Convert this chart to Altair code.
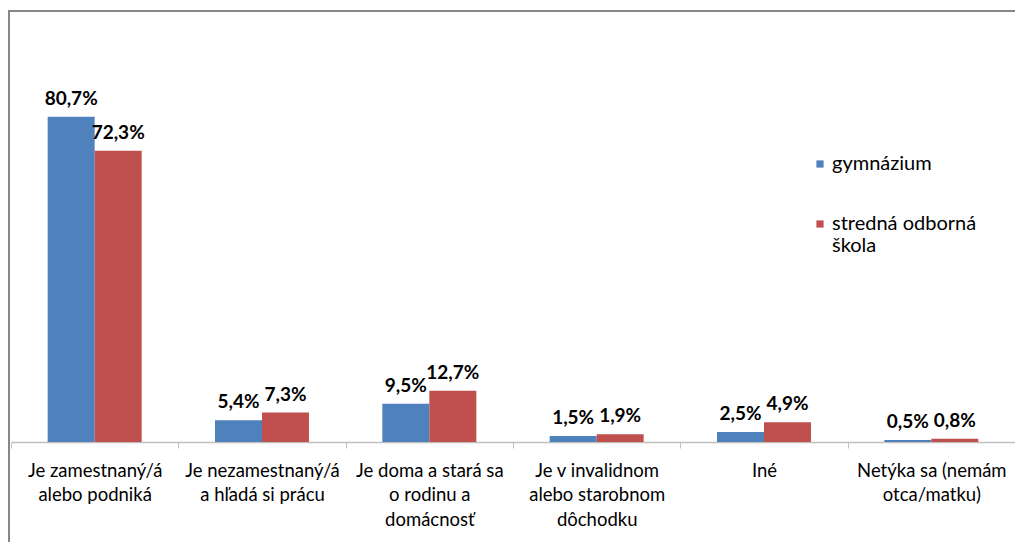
import altair as alt
import pandas as pd

categories = [
    "Je zamestnaný/á\nalebo podniká",
    "Je nezamestnaný/á\na hľadá si prácu",
    "Je doma a stará sa\no rodinu a\ndomácnosť",
    "Je v invalidnom\nalebo starobnom\ndôchodku",
    "Iné",
    "Netýka sa (nemám\notca/matku)",
]
series = ["gymnázium", "stredná odborná škola"]
gymnazium = [80.7, 5.4, 9.5, 1.5, 2.5, 0.5]
sos = [72.3, 7.3, 12.7, 1.9, 4.9, 0.8]
colors = ["#4F81BD", "#C0504D"]

rows = []
for i, c in enumerate(categories):
    rows.append({"cat": c, "series": series[0], "value": gymnazium[i]})
    rows.append({"cat": c, "series": series[1], "value": sos[i]})
df = pd.DataFrame(rows)

FONT = "Lato"
W, H = 1004, 403

base = alt.Chart(df).transform_calculate(
    lab="replace(format(datum.value, '.1f'), '.', ',') + '%'"
)

x = alt.X(
    "cat:N",
    sort=categories,
    title=None,
    scale=alt.Scale(paddingInner=0, paddingOuter=0),
    axis=alt.Axis(
        labelExpr="split(datum.label, '\\n')",
        labelAngle=0,
        labelFont=FONT,
        labelFontSize=18.5,
        labelColor="#000000",
        labelLineHeight=24.5,
        labelBaseline="top",
        labelPadding=13,
        labelLimit=0,
        tickBand="extent",
        tickSize=6,
        tickColor="#BFBFBF",
        domainColor="#BFBFBF",
        domainWidth=1.5,
        grid=False,
    ),
)
xo = alt.XOffset("series:N", sort=series, scale=alt.Scale(paddingInner=0, paddingOuter=0.78))
y = alt.Y("value:Q", scale=alt.Scale(domain=[0, 100]), axis=None)

bars = base.mark_bar().encode(
    x=x,
    xOffset=xo,
    y=y,
    color=alt.Color(
        "series:N",
        sort=series,
        scale=alt.Scale(domain=series, range=colors),
        legend=alt.Legend(
            title=None,
            orient="none",
            legendX=799,
            legendY=115,
            symbolType="square",
            symbolSize=52,
            symbolStrokeWidth=0,
            labelFont=FONT,
            labelFontSize=20,
            labelColor="#000000",
            labelExpr="datum.label == 'stredná odborná škola' ? ['stredná odborná', 'škola'] : datum.label",
            labelBaseline="middle",
            labelOffset=2,
            rowPadding=40,
        ),
    ),
)

texts = base.mark_text(
    font=FONT, fontSize=19, fontWeight="bold", color="#000000", baseline="alphabetic", dy=-12
).encode(x=x, xOffset=xo, y=y, text="lab:N")

frame = pd.DataFrame({"k": [0]})
top_line = alt.Chart(frame).mark_rule(color="#878787", strokeWidth=2).encode(
    x=alt.value(-2), x2=alt.value(1010), y=alt.value(-28)
)
left_line = alt.Chart(frame).mark_rule(color="#878787", strokeWidth=2).encode(
    x=alt.value(-2), y=alt.value(-29), y2=alt.value(600)
)

chart = (
    alt.layer(bars, texts, top_line, left_line)
    .properties(
        width=W,
        height=H,
        autosize=alt.AutoSizeParams(type="none"),
        padding={"left": 3, "top": 31, "right": 0, "bottom": 100},
        background="white",
    )
    .configure_view(stroke=None)
)

chart.save("out.html", embed_options={"renderer": "svg", "actions": False})
